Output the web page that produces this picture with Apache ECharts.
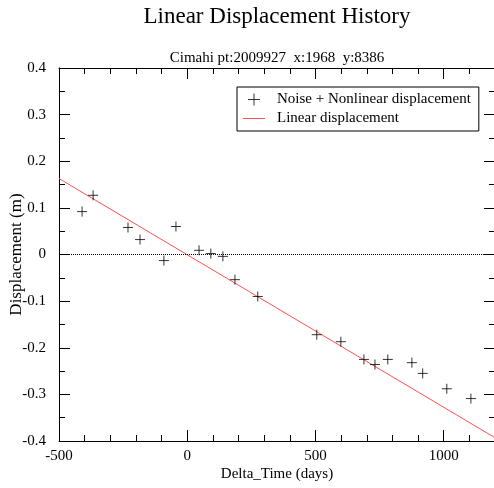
<!DOCTYPE html>
<html><head><meta charset="utf-8">
<script src="https://cdn.jsdelivr.net/npm/echarts@6/dist/echarts.min.js"></script>
<style>html,body{margin:0;padding:0;background:#fff}#c{width:494px;height:488px}</style>
</head><body><div id="c"></div>
<script>
const deltaTime = [-410, -367, -231, -184, -91, -44, 46, 92, 139, 186, 275, 505, 599, 689, 732, 782, 876, 918, 1012, 1106];
const displacement = [0.092, 0.127, 0.058, 0.032, -0.013, 0.060, 0.009, 0.002, -0.004, -0.054, -0.090, -0.172, -0.187, -0.225, -0.236, -0.225, -0.232, -0.255, -0.288, -0.309];
const linearX = [-500, 1200];
const linearY = [0.163, -0.393];
const xTicks = [-500, 0, 500, 1000];
const yTicks = [-0.4, -0.3, -0.2, -0.1, 0, 0.1, 0.2, 0.3, 0.4];

const font = 'Liberation Serif';
const plus = 'path://M0,5 L10,5 M5,0 L5,10';
const lineIcon = 'path://M0,0L22,0L22,0.01L0,0.01Z M0,5.5L22,5.5L22,6.5L0,6.5Z M0,11.99L22,11.99L22,12L0,12Z';
const axisBase = {
  type: 'value',
  axisLine: {show: true, onZero: false, lineStyle: {color: '#000', width: 1}},
  axisTick: {show: true, inside: true, length: 11, lineStyle: {color: '#000'}},
  minorTick: {show: true, length: 6, lineStyle: {color: '#000'}},
  splitLine: {show: false},
  axisLabel: {show: false}
};
const chart = echarts.init(document.getElementById('c'));
chart.setOption({
  animation: false,
  title: {
    text: 'Linear Displacement History',
    subtext: 'Cimahi pt:2009927  x:1968  y:8386',
    left: 277, top: 5, textAlign: 'center', padding: 0, itemGap: 23,
    textStyle: {fontFamily: font, fontSize: 23, fontWeight: 'normal', color: '#000'},
    subtextStyle: {fontFamily: font, fontSize: 15, color: '#000'}
  },
  legend: {
    orient: 'vertical', left: 237, top: 87, padding: [5, 8, 5, 6],
    borderColor: '#000', borderWidth: 1, itemGap: 4, itemWidth: 22, itemHeight: 12,
    textStyle: {fontFamily: font, fontSize: 15, color: '#000', padding: [0, 0, 0, 7]},
    data: [
      {name: 'Noise + Nonlinear displacement', icon: plus, itemStyle: {color: 'transparent', borderColor: '#000', borderWidth: 1}},
      {name: 'Linear displacement', icon: lineIcon, itemStyle: {color: '#ff5050', borderWidth: 0}}
    ]
  },
  grid: {left: 59, top: 68, width: 436, height: 373, containLabel: false, outerBoundsMode: 'none'},
  xAxis: [
    Object.assign({}, axisBase, {
      min: -500, max: 1200, interval: 500, position: 'bottom',
      minorTick: Object.assign({}, axisBase.minorTick, {splitNumber: 5}),
      axisLabel: {show: true, margin: 8, fontFamily: font, fontSize: 15, color: '#000',
        customValues: xTicks, formatter: v => String(v)},
      name: 'Delta_Time (days)', nameLocation: 'middle', nameGap: 26, nameMoveOverlap: false,
      nameTextStyle: {fontFamily: font, fontSize: 15, color: '#000'}
    }),
    Object.assign({}, axisBase, {
      min: -500, max: 1200, interval: 500, position: 'top',
      minorTick: Object.assign({}, axisBase.minorTick, {splitNumber: 5})
    })
  ],
  yAxis: [
    Object.assign({}, axisBase, {
      min: -0.4, max: 0.4, interval: 0.1, position: 'left',
      minorTick: Object.assign({}, axisBase.minorTick, {splitNumber: 2}),
      axisLabel: {show: true, margin: 13, fontFamily: font, fontSize: 15, color: '#000',
        customValues: yTicks, formatter: v => String(Math.round(v * 10) / 10)},
      name: 'Displacement (m)', nameLocation: 'middle', nameGap: 34, nameRotate: 90, nameMoveOverlap: false,
      nameTextStyle: {fontFamily: font, fontSize: 17, color: '#000'}
    }),
    Object.assign({}, axisBase, {
      min: -0.4, max: 0.4, interval: 0.1, position: 'right',
      minorTick: Object.assign({}, axisBase.minorTick, {splitNumber: 2})
    })
  ],
  series: [
    {
      name: 'Noise + Nonlinear displacement', type: 'scatter',
      symbol: plus, symbolSize: 10,
      itemStyle: {color: 'transparent', borderColor: '#000', borderWidth: 1},
      data: deltaTime.map((t, i) => [t, displacement[i]]),
      markLine: {
        silent: true, symbol: 'none', label: {show: false},
        lineStyle: {color: '#000', type: 'dotted', width: 1},
        data: [{yAxis: 0}]
      },
      z: 3
    },
    {
      name: 'Linear displacement', type: 'line', showSymbol: false, symbol: 'none',
      lineStyle: {color: '#ff5050', width: 1}, itemStyle: {color: '#ff5050'},
      data: linearX.map((t, i) => [t, linearY[i]]),
      z: 2
    }
  ]
});
</script>
</body></html>
